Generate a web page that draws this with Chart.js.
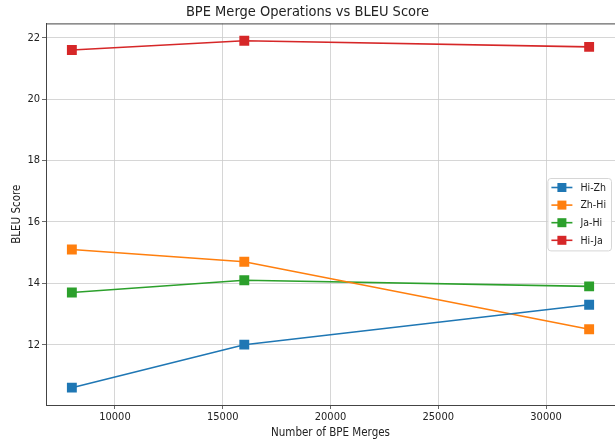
<!DOCTYPE html>
<html>
<head>
<meta charset="utf-8">
<script src="https://cdn.jsdelivr.net/npm/chart.js@4.4.1/dist/chart.umd.min.js"></script>
<style>
  html, body { margin: 0; padding: 0; background: #fff; }
  #wrap { width: 615px; height: 441px; }
</style>
</head>
<body>
<div id="wrap"><canvas id="myChart" width="615" height="441"></canvas></div>
<script>
  const merges = [8000, 16000, 32000];
  const xTicks = [10000, 15000, 20000, 25000, 30000];
  const yTicks = [12, 14, 16, 18, 20, 22];
  const seriesNames = ['Hi-Zh', 'Zh-Hi', 'Ja-Hi', 'Hi-Ja'];
  const hiZh = [10.6, 12.0, 13.3];
  const zhHi = [15.1, 14.7, 12.5];
  const jaHi = [13.7, 14.1, 13.9];
  const hiJa = [21.6, 21.9, 21.7];
  const colors = ['#1f77b4', '#ff7f0e', '#2ca02c', '#d62728'];

  const FONT = "'DejaVu Sans Condensed', 'DejaVu Sans', sans-serif";
  const allSeries = [hiZh, zhHi, jaHi, hiJa];

  const data = {
    datasets: allSeries.map((vals, i) => ({
      label: seriesNames[i],
      data: merges.map((m, j) => ({x: m, y: vals[j]})),
      borderColor: colors[i],
      backgroundColor: colors[i],
      borderWidth: 1.6,
      pointStyle: 'rect',
      pointRadius: 7,
      pointHoverRadius: 7,
      pointBorderWidth: 0
    }))
  };

  // frame around the plot like matplotlib spines
  const framePlugin = {
    id: 'frame',
    beforeDatasetsDraw(chart) {
      const {ctx, chartArea: a} = chart;
      ctx.save();
      ctx.strokeStyle = '#444';
      ctx.lineWidth = 1;
      ctx.strokeRect(a.left + 0.5, a.top + 0.5, a.right - a.left, a.bottom - a.top);
      ctx.restore();
    }
  };

  // legend box at center right, drawn by hand
  const legendPlugin = {
    id: 'boxLegend',
    afterDraw(chart) {
      const {ctx, chartArea: a} = chart;
      const sets = chart.data.datasets;
      ctx.save();
      ctx.font = '10.5px ' + FONT;
      let tw = 0;
      sets.forEach(d => { tw = Math.max(tw, ctx.measureText(d.label).width); });
      const rowH = 17.6;
      const w = 4 + 21 + 8 + tw + 5;
      const h = sets.length * rowH + 2;
      const x0 = Math.min(a.right, chart.width) - 4 - w;
      const y0 = (a.top + a.bottom) / 2 - h / 2;
      ctx.fillStyle = 'rgba(255,255,255,0.9)';
      ctx.strokeStyle = '#d6d6d6';
      ctx.lineWidth = 1;
      ctx.beginPath();
      ctx.roundRect(x0 + 0.5, y0 + 0.5, w, h, 3);
      ctx.fill();
      ctx.stroke();
      sets.forEach((d, i) => {
        const cy = y0 + 9.5 + i * rowH;
        ctx.strokeStyle = d.borderColor;
        ctx.lineWidth = 1.6;
        ctx.beginPath();
        ctx.moveTo(x0 + 4, cy);
        ctx.lineTo(x0 + 25, cy);
        ctx.stroke();
        ctx.fillStyle = d.backgroundColor;
        ctx.fillRect(x0 + 14.5 - 4.5, cy - 4.5, 9, 9);
        ctx.fillStyle = '#222';
        ctx.textBaseline = 'middle';
        ctx.textAlign = 'left';
        ctx.fillText(d.label, x0 + 33, cy + 0.5);
      });
      ctx.restore();
    }
  };

  const config = {
    type: 'line',
    data: data,
    options: {
      responsive: false,
      animation: false,
      layout: { padding: 0, autoPadding: false },
      plugins: {
        legend: { display: false },
        tooltip: { enabled: false },
        title: {
          display: true,
          text: 'BPE Merge Operations vs BLEU Score',
          color: '#222',
          font: { family: FONT, size: 14.5, weight: 'normal' },
          padding: { top: 4, bottom: 2 }
        }
      },
      scales: {
        x: {
          type: 'linear',
          min: 6800,
          max: 33200,
          afterBuildTicks: s => { s.ticks = xTicks.map(v => ({value: v})); },
          afterFit: s => { s.height = 36; s.paddingLeft = 0; s.paddingRight = 0; },
          ticks: {
            callback: v => String(v),
            color: '#222',
            padding: 2,
            maxRotation: 0,
            font: { family: FONT, size: 11 }
          },
          grid: { color: '#cccccc', lineWidth: 0.8, tickColor: '#444', tickLength: 4 },
          border: { color: '#444', width: 1 },
          title: {
            display: true,
            text: 'Number of BPE Merges',
            color: '#222',
            font: { family: FONT, size: 11.5 },
            padding: { top: 0, bottom: 1 }
          }
        },
        y: {
          type: 'linear',
          min: 10.035,
          max: 22.465,
          afterBuildTicks: s => { s.ticks = yTicks.map(v => ({value: v})); },
          afterFit: s => { s.width = 46; s.paddingTop = 0; s.paddingBottom = 0; },
          ticks: {
            callback: v => String(v),
            color: '#222',
            padding: 2,
            font: { family: FONT, size: 11 }
          },
          grid: { color: '#cccccc', lineWidth: 0.8, tickColor: '#444', tickLength: 4 },
          border: { color: '#444', width: 1 },
          title: {
            display: true,
            text: 'BLEU Score',
            color: '#222',
            font: { family: FONT, size: 11.5 },
            padding: { top: 10, bottom: 0 }
          }
        }
      }
    },
    plugins: [framePlugin, legendPlugin]
  };

  const myChart = new Chart(document.getElementById('myChart'), config);
</script>
</body>
</html>
